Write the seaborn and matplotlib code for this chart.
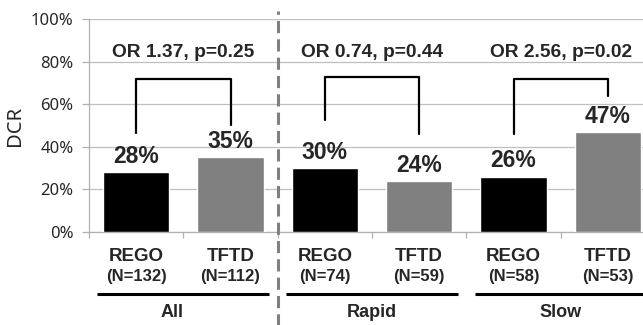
import numpy as np
import pandas as pd
import seaborn as sns
import matplotlib.pyplot as plt

# 데이터
groups = ['All', 'Rapid', 'Slow']
arms = ['REGO', 'TFTD', 'REGO', 'TFTD', 'REGO', 'TFTD']
n_labels = ['(N=132)', '(N=112)', '(N=74)', '(N=59)', '(N=58)', '(N=53)']
dcr = [28, 35, 30, 24, 26, 47]
or_text = ['OR 1.37, p=0.25', 'OR 0.74, p=0.44', 'OR 2.56, p=0.02']
# 브래킷: 왼쪽 아래, 위, 오른쪽 아래 (%)
bracket_left = [46.5, 52.6, 46.0]
bracket_top = [71.8, 72.8, 71.8]
bracket_right = [50.2, 46.0, 63.8]

df = pd.DataFrame({
    'slot': [f'{a}\n{n}' for a, n in zip(arms, n_labels)],
    'arm': arms,
    'dcr': dcr,
})

sns.set_theme(style='white')
plt.rcParams['font.family'] = ['Liberation Sans', 'DejaVu Sans']

fig = plt.figure(figsize=(6.43, 3.25), dpi=100)
ax = fig.add_axes([89 / 643, 1 - 232 / 325, (655 - 89) / 643, 213 / 325])

sns.barplot(data=df, x='slot', y='dcr', hue='arm', order=df['slot'],
            palette={'REGO': 'black', 'TFTD': '#808080'}, dodge=False,
            width=0.7, legend=False, ax=ax, saturation=1, zorder=3)

ax.set_xlim(-0.5, 5.5)
ax.set_ylim(0, 100)
ax.set_yticks(range(0, 101, 20))
ax.set_yticklabels([f'{v}%' for v in range(0, 101, 20)],
                   fontfamily='Noto Sans', fontsize=12)
ax.yaxis.grid(True, color='#bfbfbf', lw=0.9, zorder=0)
ax.set_axisbelow(True)
ax.set_xticks(np.arange(-0.5, 6, 1))
ax.set_xticklabels([])
ax.tick_params(axis='x', length=4.5, color='#b0b0b0', width=0.9, bottom=True, direction='out')
ax.tick_params(axis='y', length=5, color='#b0b0b0', width=0.9, left=True, direction='out', pad=6)
ax.set_xlabel('')
ax.set_ylabel('DCR', fontfamily='Noto Sans', fontsize=14.5, labelpad=4)
for s in ['top', 'right']:
    ax.spines[s].set_visible(False)
for s in ['left', 'bottom']:
    ax.spines[s].set_color('#b0b0b0')
    ax.spines[s].set_linewidth(0.9)

# 막대 값 라벨
for cont in ax.containers:
    ax.bar_label(cont, labels=[f'{v:.0f}%' for v in cont.datavalues],
                 padding=3, fontsize=16.5, fontweight='bold')

xt = ax.get_xaxis_transform()
for i, (a, n) in enumerate(zip(arms, n_labels)):
    ax.text(i, -0.113, a, transform=xt, ha='center', va='center',
            fontsize=13.5, fontweight='bold', clip_on=False)
    ax.text(i, -0.211, n, transform=xt, ha='center', va='center',
            fontsize=12, fontweight='bold', clip_on=False)

for g, name in enumerate(groups):
    c = 2 * g + 0.5
    ax.plot([c - 0.91, c + 0.91], [-0.291, -0.291], transform=xt, color='black',
            lw=2.2, clip_on=False, solid_capstyle='butt')
    dx = -0.12 if g == 0 else 0
    ax.text(c + dx, -0.38, name, transform=xt, ha='center', va='center',
            fontsize=13, fontweight='bold', clip_on=False)
    # 브래킷
    ax.plot([2 * g, 2 * g, 2 * g + 1, 2 * g + 1],
            [bracket_left[g], bracket_top[g], bracket_top[g], bracket_right[g]],
            color='black', lw=1.6, zorder=4)
    ax.text(c, 84.5, or_text[g], ha='center', va='center',
            fontsize=13.8, fontweight='bold', zorder=4)

# 구분 점선
ax.axvline(1.5, ymin=-0.44, ymax=1.038, color='#808080', lw=2.2,
           linestyle=(0, (4, 2)), clip_on=False, zorder=5)

fig.savefig('out.png', dpi=100)
